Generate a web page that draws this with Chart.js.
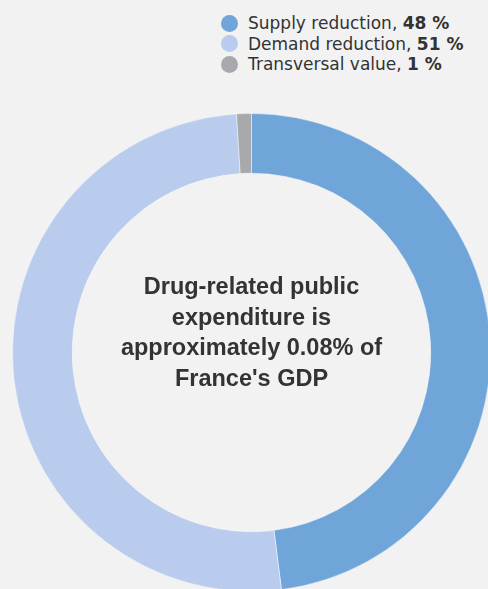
<!DOCTYPE html>
<html>
<head>
<meta charset="utf-8">
<script src="https://cdn.jsdelivr.net/npm/chart.js@4/dist/chart.umd.min.js"></script>
<style>
  html, body { margin: 0; padding: 0; background: #f2f2f2; overflow: hidden; }
  #wrap { position: relative; width: 488px; height: 589px; overflow: hidden; background: #f2f2f2; }
  #chart { position: absolute; left: 12px; top: 113px; }
  #legend { position: absolute; left: 221px; top: 13px; font-family: "DejaVu Sans", sans-serif; font-size: 17px; color: #333; }
  #legend .item { height: 20.5px; line-height: 20.5px; white-space: nowrap; display: flex; align-items: center; }
  #legend .dot { width: 17px; height: 17px; border-radius: 50%; margin-right: 10px; flex: none; }
</style>
</head>
<body>
<div id="wrap">
  <div id="legend"></div>
  <canvas id="chart" width="479" height="479"></canvas>
</div>
<script>
// dữ liệu
const labels = ['Supply reduction', 'Demand reduction', 'Transversal value'];
const values = [48, 51, 1];
const colors = ['#6fa5d9', '#bacced', '#a8a9ac'];
const centerLines = ['Drug-related public', 'expenditure is', 'approximately 0.08% of', "France's GDP"];

const centerFont = 'bold 23.5px "Liberation Sans"';

// legend kiểu html để có phần số in đậm
const legendDiv = document.getElementById('legend');
labels.forEach((l, i) => {
    const row = document.createElement('div');
    row.className = 'item';
    row.innerHTML = `<span class="dot" style="background:${colors[i]}"></span><span>${l}, <b>${values[i]} %</b></span>`;
    legendDiv.appendChild(row);
});

// chữ ở giữa vòng
const centerText = {
    id: 'centerText',
    afterDraw(chart) {
        const ctx = chart.ctx;
        const arc = chart.getDatasetMeta(0).data[0];
        const cx = arc.x, cy = arc.y;
        ctx.save();
        ctx.font = centerFont + ', Arial, sans-serif';
        ctx.fillStyle = '#333';
        ctx.textAlign = 'center';
        ctx.textBaseline = 'alphabetic';
        const lh = 30.7;
        const first = cy - 58.5;
        centerLines.forEach((t, i) => {
            ctx.fillText(t, cx, first + i * lh);
        });
        ctx.restore();
    }
};

function initChart() {
    const ctx = document.getElementById('chart').getContext('2d');
    window.myChart = new Chart(ctx, {
        type: 'doughnut',
        data: {
            labels: labels,
            datasets: [{
                data: values,
                backgroundColor: colors,
                borderColor: 'rgba(255,255,255,0.45)',
                borderWidth: 1,
                hoverOffset: 0
            }]
        },
        options: {
            responsive: false,
            animation: false,
            cutout: '75%',
            layout: { padding: 0 },
            plugins: {
                legend: { display: false },
                tooltip: { enabled: false }
            }
        },
        plugins: [centerText]
    });
}

// đợi font load xong rồi mới vẽ
document.fonts.load(centerFont).then(initChart, initChart);
</script>
</body>
</html>
